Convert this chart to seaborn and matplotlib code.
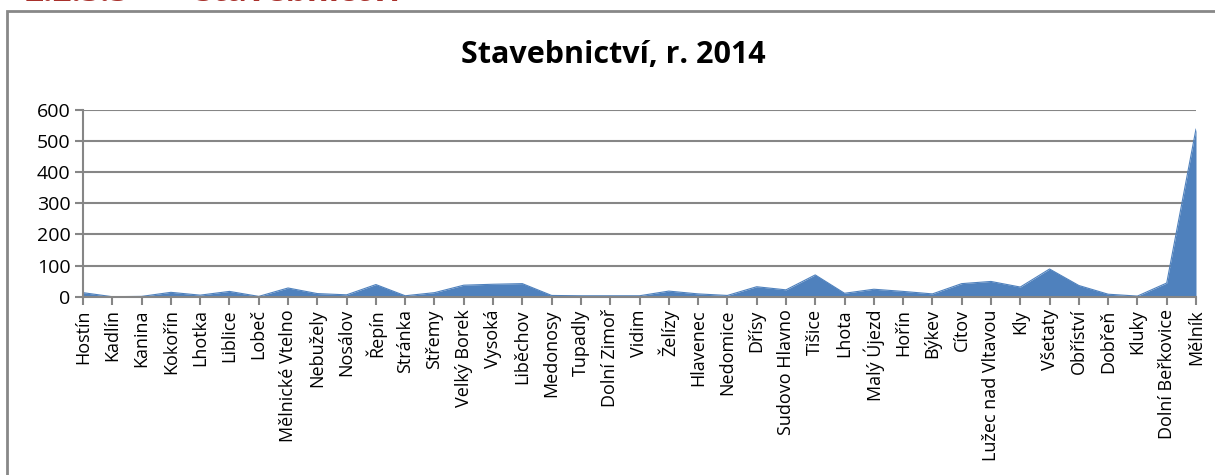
import numpy as np
import pandas as pd
import matplotlib
matplotlib.use("Agg")
import matplotlib.pyplot as plt
import seaborn as sns
from matplotlib.patches import Rectangle

obce = ["Hostín", "Kadlín", "Kanina", "Kokořín", "Lhotka", "Liblice", "Lobeč",
        "Mělnické Vtelno", "Nebužely", "Nosálov", "Řepín", "Stránka", "Střemy",
        "Velký Borek", "Vysoká", "Liběchov", "Medonosy", "Tupadly", "Dolní Zimoř",
        "Vidim", "Želízy", "Hlavenec", "Nedomice", "Dřísy", "Sudovo Hlavno",
        "Tišice", "Lhota", "Malý Újezd", "Hořín", "Býkev", "Cítov",
        "Lužec nad Vltavou", "Kly", "Všetaty", "Obříství", "Dobřeň", "Kluky",
        "Dolní Beřkovice", "Mělník"]
hodnoty = [13, 0, 1, 14, 5, 17, 1, 28, 10, 6, 39, 3, 13,
           37, 40, 42, 4, 3, 3, 3, 18, 9, 4, 32, 22,
           70, 11, 24, 17, 9, 42, 49, 31, 89, 36, 8, 2, 44, 539]
y_ticks = [0, 100, 200, 300, 400, 500, 600]

df = pd.DataFrame({"obec": obce, "hodnota": hodnoty})
df["pos"] = np.arange(len(df))

sns.set_style("white")
plt.rcParams["font.family"] = ["Open Sans", "DejaVu Sans"]
plt.rcParams["text.color"] = "black"
plt.rcParams["xtick.labelcolor"] = "black"
plt.rcParams["ytick.labelcolor"] = "black"

fig = plt.figure(figsize=(12.15, 4.75), dpi=100)
ax = fig.add_axes([83 / 1215, 178.3 / 475, 1113 / 1215, 186.7 / 475])

blue = "#4F81BD"
grid = "#868686"
sns.lineplot(data=df, x="pos", y="hodnota", ax=ax, color=blue, linewidth=0.8)
ax.fill_between(df["pos"], 0, df["hodnota"], color=blue, linewidth=0)

ax.set_xlim(0, len(obce) - 1)
ax.set_ylim(0, 600)
ax.set_yticks(y_ticks)
ax.set_yticklabels([str(v) for v in y_ticks], fontsize=14)
ax.set_xticks(df["pos"])
ax.set_xticklabels(obce, rotation=90, fontsize=13)
ax.set_xlabel("")
ax.set_ylabel("")
for v in y_ticks[1:]:
    ax.axhline(v, color=grid, linewidth=1.5, zorder=0)

for s in ["top", "right"]:
    ax.spines[s].set_visible(False)
ax.spines["left"].set_color(grid)
ax.spines["left"].set_linewidth(1.5)
ax.spines["bottom"].set_color(grid)
ax.spines["bottom"].set_linewidth(1.5)
ax.tick_params(axis="both", direction="out", length=6, width=1.5, color=grid,
               left=True, bottom=True, pad=3)

fig.text(613 / 1215, 1 - 55 / 475, "Stavebnictví, r. 2014", ha="center",
         va="center", fontsize=22, fontweight="bold")

# outer chart frame
fig.patches.append(Rectangle((7 / 1215, -0.1), 1.2, 1.1 - 11 / 475,
                             transform=fig.transFigure, fill=False,
                             edgecolor="#888888", linewidth=2))

# section heading above the chart, cut off by the page edge
red = "#A8302B"
fig.text(25 / 1215, 1 - 1 / 475, "2.2.3.3", color=red, fontsize=24,
         fontweight="bold", va="baseline", ha="left")
fig.text(195 / 1215, 1 - 1 / 475, "Stavebnictví", color=red, fontsize=24,
         fontweight="bold", va="baseline", ha="left")

fig.savefig("out.png", dpi=100)
